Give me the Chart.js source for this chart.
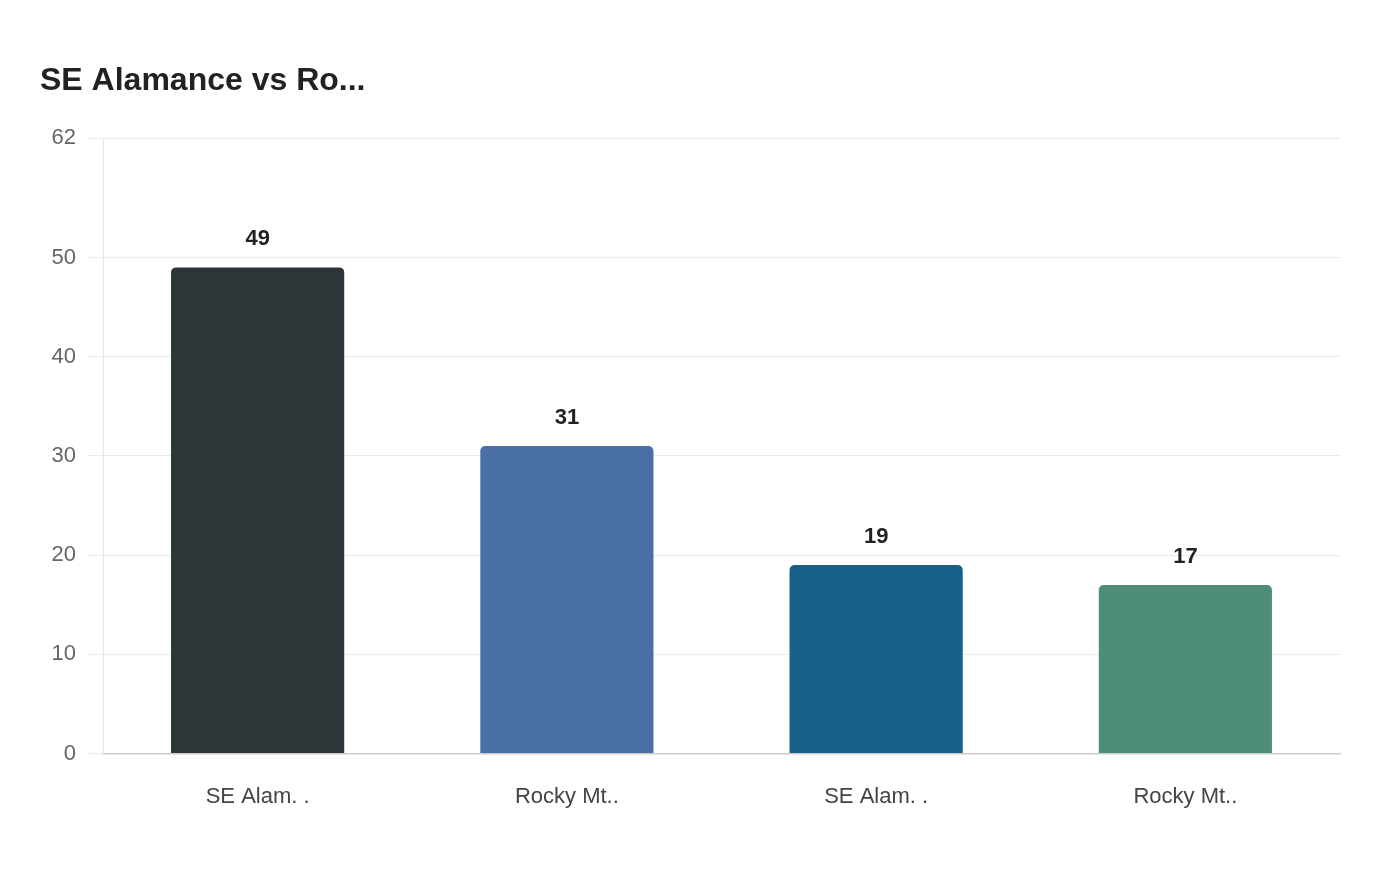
<!DOCTYPE html>
<html>
<head>
<meta charset="utf-8">
<script src="https://cdn.jsdelivr.net/npm/chart.js@4"></script>
<style>
  html, body { margin: 0; padding: 0; background: #ffffff; }
  #wrap { width: 1400px; height: 880px; position: relative; }
</style>
</head>
<body>
<div id="wrap"><canvas id="c"></canvas></div>
<script>
const titleText = "SE Alamance vs Ro...";
const categories = ["SE Alam. .", "Rocky Mt..", "SE Alam. .", "Rocky Mt.."];
const values = [49, 31, 19, 17];
const barColors = ["#2d3538", "#4a6fa5", "#176087", "#4f8d7b"];
const yTicks = [0, 10, 20, 30, 40, 50, 62];
const yMax = 62;

const FONT = 'Liberation Sans, Arial, Helvetica, sans-serif';

const valueLabels = {
  id: 'valueLabels',
  afterDatasetsDraw(chart) {
    const ctx = chart.ctx;
    const meta = chart.getDatasetMeta(0);
    ctx.save();
    ctx.font = 'bold 22px ' + FONT;
    ctx.fillStyle = '#222222';
    ctx.textAlign = 'center';
    ctx.textBaseline = 'middle';
    meta.data.forEach((bar, i) => {
      ctx.fillText(String(values[i]), bar.x, bar.y - 28);
    });
    ctx.restore();
  }
};

new Chart(document.getElementById('c'), {
  type: 'bar',
  data: {
    labels: categories,
    datasets: [{
      data: values,
      backgroundColor: barColors,
      borderRadius: { topLeft: 5, topRight: 5, bottomLeft: 0, bottomRight: 0 },
      borderSkipped: 'bottom',
      categoryPercentage: 0.8,
      barPercentage: 0.7
    }]
  },
  options: {
    responsive: true,
    maintainAspectRatio: false,
    animation: false,
    layout: { padding: { left: 40, right: 60, top: 0, bottom: 48 } },
    plugins: {
      legend: { display: false },
      tooltip: { enabled: false },
      title: {
        display: true,
        text: titleText,
        align: 'start',
        color: '#222222',
        font: { family: FONT, size: 32, weight: 'bold' },
        padding: { top: 62, bottom: 38 }
      }
    },
    scales: {
      x: {
        grid: { display: false },
        border: { display: true, color: '#cccccc', width: 1.5 },
        ticks: {
          color: '#444444',
          font: { family: FONT, size: 22 },
          padding: 22,
          maxRotation: 0
        }
      },
      y: {
        min: 0,
        max: yMax,
        afterBuildTicks(scale) { scale.ticks = yTicks.map(v => ({ value: v })); },
        afterFit(scale) { scale.width = 63; },
        grid: { color: '#ebebeb', lineWidth: 1, tickLength: 15 },
        border: { display: true, color: '#e6e6e6' },
        ticks: {
          color: '#666666',
          font: { family: FONT, size: 22 },
          padding: 12
        }
      }
    }
  },
  plugins: [valueLabels]
});
</script>
</body>
</html>
